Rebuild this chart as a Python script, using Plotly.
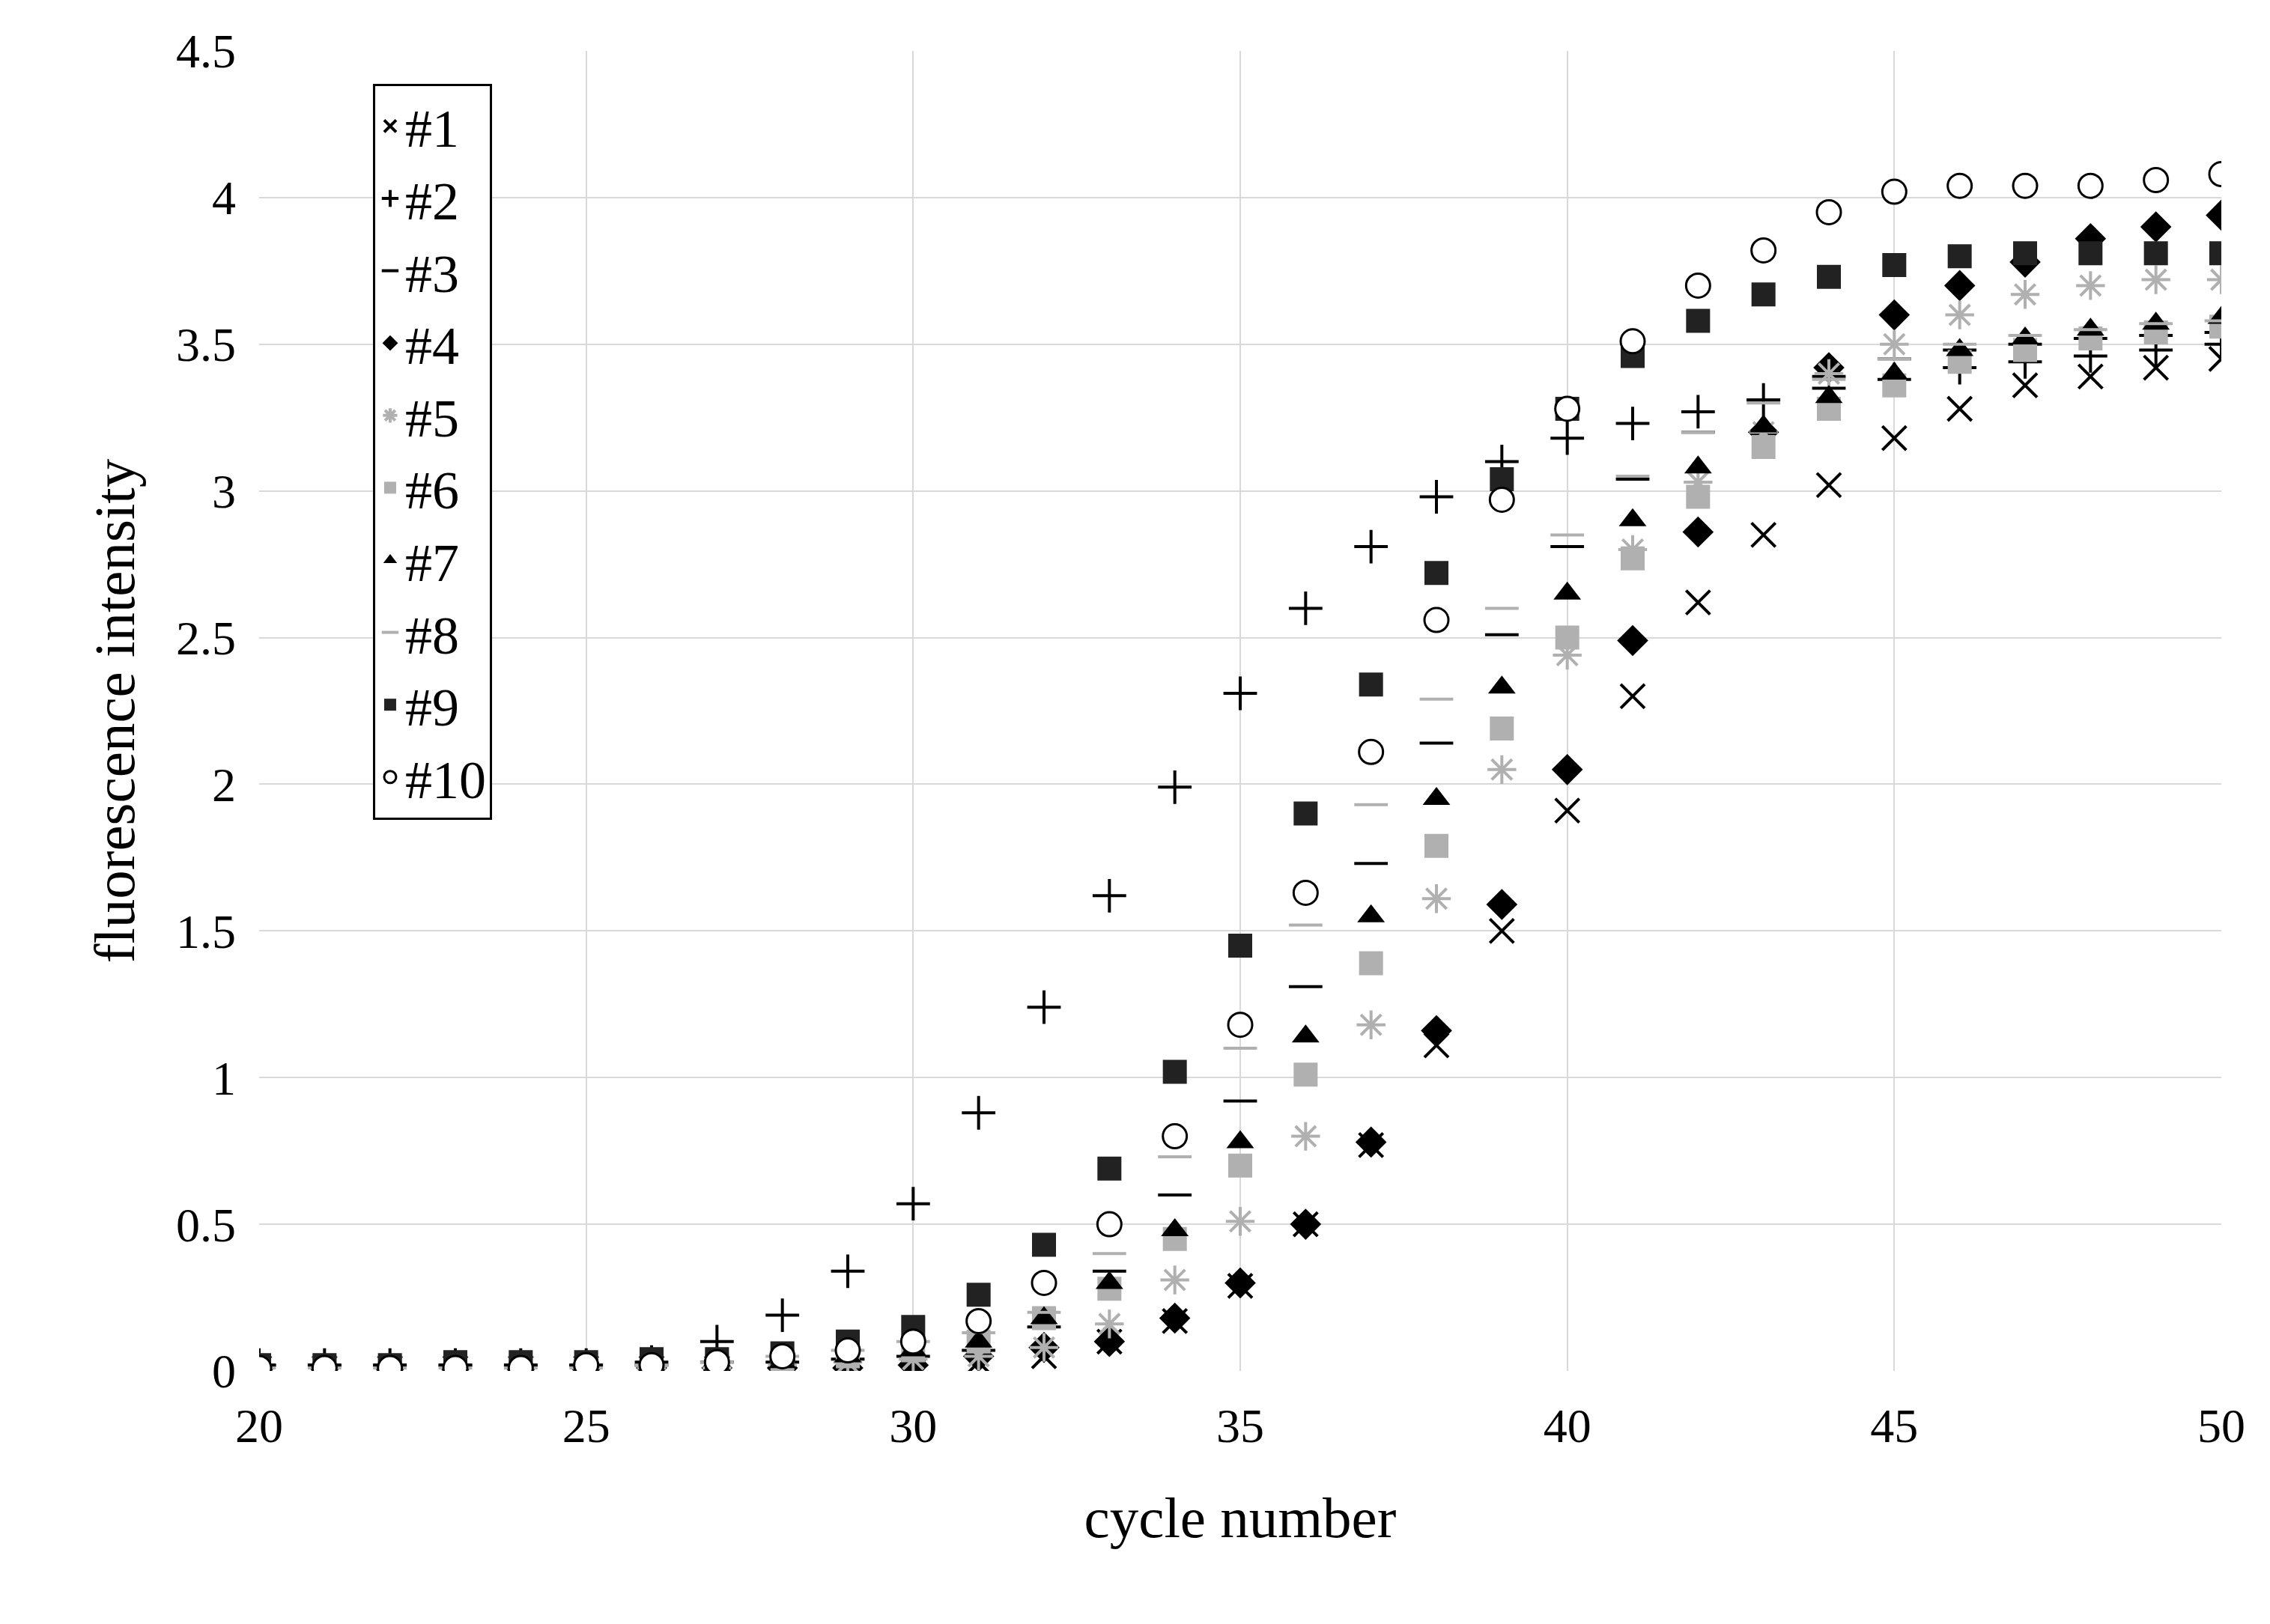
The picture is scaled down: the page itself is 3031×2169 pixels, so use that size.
import plotly.graph_objects as go

cycles = list(range(20, 51))
s1 = [0.01,0.01,0.01,0.01,0.01,0.01,0.01,0.01,0.0,0.0,0.0,0.03,0.05,0.1,0.17,0.29,0.5,0.77,1.11,1.5,1.91,2.3,2.62,2.85,3.02,3.18,3.28,3.36,3.39,3.42,3.45]
s2 = [0.02,0.02,0.02,0.02,0.02,0.02,0.03,0.1,0.19,0.34,0.57,0.88,1.24,1.62,1.99,2.31,2.6,2.81,2.98,3.1,3.18,3.23,3.27,3.31,3.35,3.38,3.42,3.44,3.46,3.48,3.5]
s3 = [0.02,0.02,0.02,0.02,0.02,0.02,0.02,0.03,0.03,0.04,0.05,0.07,0.15,0.34,0.6,0.92,1.31,1.73,2.14,2.51,2.81,3.04,3.2,3.31,3.39,3.45,3.48,3.5,3.52,3.53,3.54]
s4 = [0.01,0.01,0.01,0.01,0.01,0.01,0.01,0.01,0.01,0.01,0.02,0.05,0.08,0.1,0.18,0.3,0.5,0.78,1.16,1.59,2.05,2.49,2.86,3.2,3.42,3.6,3.7,3.78,3.86,3.9,3.94]
s5 = [0.01,0.01,0.01,0.01,0.01,0.01,0.01,0.01,0.02,0.03,0.04,0.05,0.08,0.16,0.31,0.51,0.8,1.18,1.61,2.05,2.44,2.8,3.03,3.2,3.4,3.5,3.6,3.67,3.7,3.72,3.72]
s6 = [0.01,0.01,0.01,0.01,0.01,0.01,0.01,0.02,0.03,0.05,0.07,0.1,0.18,0.28,0.45,0.7,1.01,1.39,1.79,2.19,2.5,2.77,2.98,3.15,3.28,3.36,3.44,3.48,3.52,3.54,3.56]
s7 = [0.01,0.01,0.01,0.01,0.01,0.01,0.01,0.02,0.03,0.05,0.07,0.1,0.18,0.3,0.48,0.78,1.14,1.55,1.95,2.33,2.65,2.9,3.08,3.22,3.32,3.4,3.48,3.52,3.55,3.57,3.59]
s8 = [0.01,0.01,0.01,0.01,0.01,0.01,0.02,0.03,0.05,0.07,0.1,0.13,0.2,0.4,0.73,1.1,1.52,1.93,2.29,2.6,2.85,3.05,3.2,3.3,3.38,3.45,3.5,3.53,3.55,3.57,3.58]
s9 = [0.02,0.02,0.02,0.03,0.03,0.03,0.04,0.04,0.06,0.1,0.15,0.26,0.43,0.69,1.02,1.45,1.9,2.34,2.72,3.04,3.28,3.46,3.58,3.67,3.73,3.77,3.8,3.81,3.81,3.81,3.81]
s10 = [0.01,0.01,0.01,0.01,0.01,0.02,0.02,0.03,0.05,0.07,0.1,0.17,0.3,0.5,0.8,1.18,1.63,2.11,2.56,2.97,3.28,3.51,3.7,3.82,3.95,4.02,4.04,4.04,4.04,4.06,4.08]

names = ["#1","#2","#3","#4","#5","#6","#7","#8","#9","#10"]
series = [s1,s2,s3,s4,s5,s6,s7,s8,s9,s10]
symbols = ["x-thin-open","cross-thin-open","line-ew-open","diamond","asterisk-open","square","triangle-up","line-ew-open","square","circle"]
colors = ["black","black","black","black","#b0b0b0","#b0b0b0","black","#b0b0b0","#222222","white"]

fig = go.Figure()
for n, s, sym, c in zip(names, series, symbols, colors):
    if sym == "circle":
        line = dict(color="black", width=3)
    elif sym.endswith("open"):
        line = dict(color=c, width=4)
    else:
        line = dict(width=0)
    fig.add_trace(go.Scatter(x=cycles, y=s, mode="markers", name=n,
                             marker=dict(symbol=sym, size=32, color=c, line=line)))

font = "Liberation Serif, DejaVu Serif, serif"
fig.update_layout(
    width=3031, height=2169, plot_bgcolor="white", paper_bgcolor="white",
    margin=dict(l=338, r=73, t=60, b=346),
    font=dict(family=font, size=64, color="black"),
    showlegend=True,
    legend=dict(x=0.058, y=0.975, xanchor="left", yanchor="top", bordercolor="black",
                borderwidth=3, bgcolor="white", font=dict(size=72),
                tracegroupgap=0, itemwidth=30),
    xaxis=dict(range=[20, 50], dtick=5, showgrid=True, gridcolor="#d9d9d9", gridwidth=2,
               zeroline=False, ticks="", ticklabelstandoff=30,
               title=dict(text="cycle number", standoff=60), tickfont=dict(size=64)),
    yaxis=dict(range=[0, 4.5], dtick=0.5, showgrid=True, gridcolor="#d9d9d9", gridwidth=2,
               zeroline=False, ticks="", ticklabelstandoff=30,
               title=dict(text="fluorescence intensity", standoff=30), tickfont=dict(size=64)),
)
fig.write_html("out.html")
